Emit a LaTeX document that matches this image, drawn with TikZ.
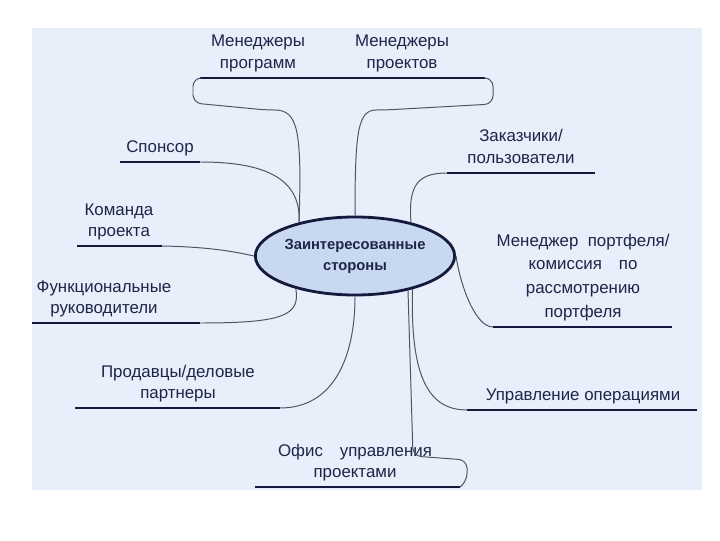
\documentclass[tikz,border=0pt]{standalone}
\usepackage{fontspec}
\setmainfont{Liberation Sans}
\usetikzlibrary{positioning}
\usetikzlibrary{shapes.geometric}

\definecolor{bgblue}{RGB}{232,238,250}
\definecolor{ellblue}{RGB}{200,216,241}
\definecolor{navy}{RGB}{20,26,60}
\definecolor{txtblue}{RGB}{28,38,72}
\definecolor{linkgray}{RGB}{78,84,98}

\tikzset{
  lbl/.style={anchor=south, align=center, text=txtblue, inner sep=1pt,
    text depth=2.5pt, font=\fontsize{12}{15.5}\selectfont},
  uline/.style={draw=navy, line width=2.1pt},
  link/.style={draw=linkgray, line width=0.7pt},
}

\begin{document}
\begin{tikzpicture}[x=0.025cm,y=0.025cm]

  \useasboundingbox (0,0) rectangle (720,540);

  % background panel
  \fill[bgblue] (32,50) rectangle (702,512);

  % central ellipse
  \node[ellipse, draw=navy, line width=2pt, fill=ellblue, minimum width=4.5cm,
    minimum height=1.95cm, inner sep=0pt, align=center, text=txtblue,
    font=\fontsize{10.5}{15}\selectfont\bfseries] (st) at (355,284)
    {Заинтересованные\\стороны};

  % end points of the underlines
  \coordinate (mgL) at (200,462); \coordinate (mgR) at (485,462);
  \coordinate (spL) at (120,378); \coordinate (spR) at (200,378);
  \coordinate (tmL) at (77,294);  \coordinate (tmR) at (162,294);
  \coordinate (fnL) at (32,217);  \coordinate (fnR) at (200,217);
  \coordinate (slL) at (75,132);  \coordinate (slR) at (280,132);
  \coordinate (pmL) at (255,53);  \coordinate (pmR) at (460,53);
  \coordinate (opL) at (467,130); \coordinate (opR) at (697,130);
  \coordinate (pfL) at (493,213); \coordinate (pfR) at (672,213);
  \coordinate (cuL) at (447,367); \coordinate (cuR) at (595,367);

  \foreach \a in {mg,sp,tm,fn,sl,pm,op,pf,cu}
    \draw[uline] (\a L) -- (\a R);

  % labels
  \node[lbl] (mgprog) at (258,466) {Менеджеры\\программ};
  \node[lbl] (mgproj) at (402,466) {Менеджеры\\проектов};
  \node[lbl] (sponsor) at (160,382) {Спонсор};
  \node[lbl] (team) at (119,298) {Команда\\проекта};
  \node[lbl] (func) at (104,221) {Функциональные\\руководители};
  \node[lbl] (sellers) at (178,136) {Продавцы/деловые\\партнеры};
  \node[lbl] (pmo) at (355,57) {Офис\quad управления\\проектами};
  \node[lbl] (ops) at (583,134) {Управление операциями};
  \node[lbl, font=\fontsize{12}{17}\selectfont] (portf) at (583,217)
    {Менеджер\ \ портфеля/\\комиссия\quad по\\рассмотрению\\портфеля};
  \node[lbl] (cust) at (521,371) {Заказчики/\\пользователи};

  % top bracket
  \draw[link, rounded corners=6] (st.149) .. controls (302,410) and (298,430)
    .. (266,430) -- (193,437) -- (193,462) -- (mgL);
  \draw[link, rounded corners=6] (st.north) .. controls (355,410) and (358,430)
    .. (385,430) -- (493,436) -- (493,462) -- (mgR);

  % left branches
  \draw[link] (spR) .. controls (252,378) and (302,368) .. (st.149);
  \draw[link] (tmR) .. controls (215,293) and (240,287) .. (st.west);
  \draw[link] (fnR) .. controls (285,217) and (300,225) .. (st.209);
  \draw[link] (slR) .. controls (335,132) and (355,185) .. (st.south);

  % bottom bracket
  \draw[link, rounded corners=6] (st.-33) -- (413,84) -- (467,80) -- (467,58)
    -- (pmR);

  % right branches
  \draw[link] (st.-30) .. controls (410,160) and (430,130) .. (opL);
  \draw[link] (st.east) .. controls (460,256) and (475,213) .. (pfL);
  \draw[link] (st.31) .. controls (408,355) and (418,367) .. (cuL);

\end{tikzpicture}
\end{document}
